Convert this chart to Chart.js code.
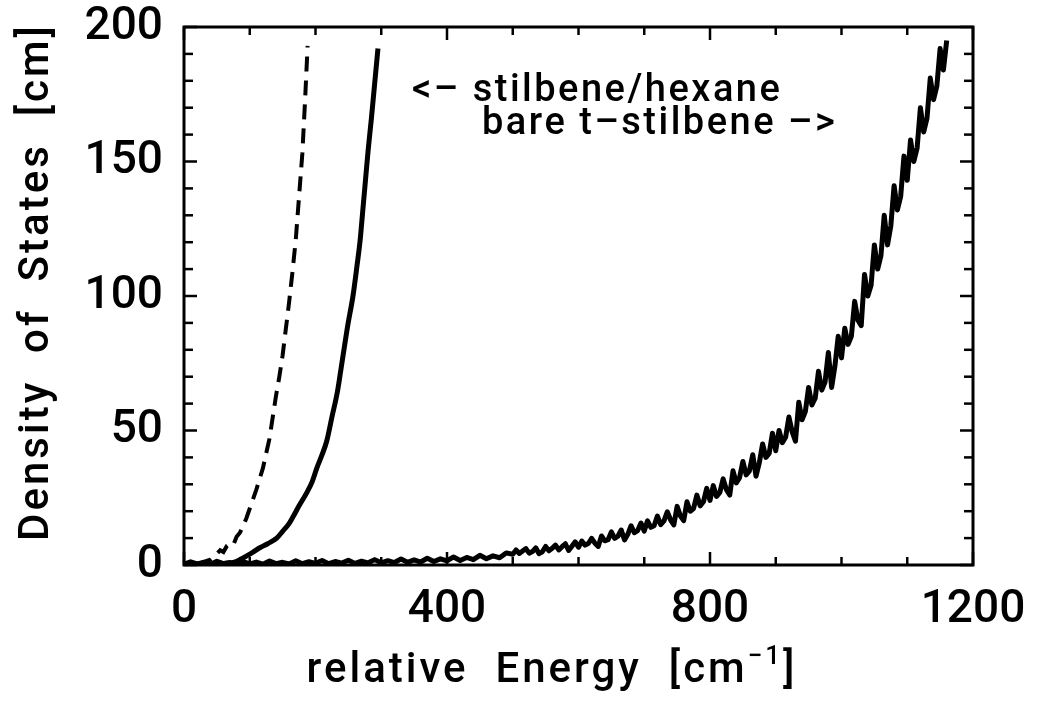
<!DOCTYPE html>
<html>
<head>
<meta charset="utf-8">
<title>Density of States</title>
<script src="https://cdn.jsdelivr.net/npm/chart.js@4.4.0/dist/chart.umd.min.js"></script>
<style>
  html, body { margin: 0; padding: 0; background: #fff; }
  #wrap { width: 1038px; height: 705px; }
</style>
</head>
<body>
<div id="wrap"><canvas id="dosChart" width="1038" height="705"></canvas></div>
<script>
// --- tick positions (major ticks carry labels, minor ticks are plain marks) ---
const xMajorTicks = [0, 400, 800, 1200];
const xMinorTicks = [100, 200, 300, 500, 600, 700, 900, 1000, 1100];
const yMajorTicks = [0, 50, 100, 150, 200];
const yMinorTicks = [10, 20, 30, 40, 60, 70, 80, 90, 110, 120, 130, 140, 160, 170, 180, 190];

// --- stilbene/hexane, dashed trace ---
const hexaneDashedE = [20, 30, 40, 50, 55, 60, 65, 70, 75, 80, 85, 90, 95, 100, 105, 110,
  115, 120, 125, 130, 135, 140, 145, 150, 155, 160, 165, 170, 175, 180, 184, 188];
const hexaneDashedDos = [0.3, 1.2, 2.0, 4.2, 5.5, 4.8, 7.0, 8.0, 7.5, 10.5, 12.0, 14.5, 17.5, 21.0, 24.5, 28.0,
  32.0, 36.0, 41.5, 47.0, 55.0, 63.0, 70.0, 78.0, 88.0, 98.0, 109.0, 121.0, 137.0, 153.0, 172.0, 193.0];

// --- stilbene/hexane, solid trace ---
const hexaneSolidE = [40, 60, 75, 85, 96, 105, 116, 128, 141, 150, 160, 166, 175, 187, 195, 202,
  210, 217, 225, 233, 237, 242, 249, 257, 263, 268, 272, 276, 280, 285, 290, 295];
const hexaneSolidDos = [0.3, 0.6, 1.0, 2.0, 3.5, 4.8, 6.5, 8.0, 10.0, 12.5, 15.5, 18.0, 22.0, 27.0, 31.0, 36.0,
  41.0, 46.0, 55.0, 64.0, 70.0, 78.0, 89.0, 100.0, 111.0, 121.0, 132.0, 143.0, 154.0, 166.0, 179.0, 192.0];

// --- bare t-stilbene (noisy), coarse grid below 500 cm-1, fine grid above ---
const bareE = [0, 10, 20, 30, 40, 50, 60, 70, 80, 90,
  100, 110, 120, 130, 140, 150, 160, 170, 180, 190,
  200, 210, 220, 230, 240, 250, 260, 270, 280, 290,
  300, 310, 320, 330, 340, 350, 360, 370, 380, 390,
  400, 410, 420, 430, 440, 450, 460, 470, 480, 490,
  500, 505, 510, 515, 520, 525, 530, 535, 540, 545, 550, 555, 560, 565, 570, 575, 580, 585, 590, 595,
  600, 605, 610, 615, 620, 625, 630, 635, 640, 645, 650, 655, 660, 665, 670, 675, 680, 685, 690, 695,
  700, 705, 710, 715, 720, 725, 730, 735, 740, 745, 750, 755, 760, 765, 770, 775, 780, 785, 790, 795,
  800, 805, 810, 815, 820, 825, 830, 835, 840, 845, 850, 855, 860, 865, 870, 875, 880, 885, 890, 895,
  900, 905, 910, 915, 920, 925, 930, 935, 940, 945, 950, 955, 960, 965, 970, 975, 980, 985, 990, 995,
  1000, 1005, 1010, 1015, 1020, 1025, 1030, 1035, 1040, 1045, 1050, 1055, 1060, 1065, 1070, 1075, 1080, 1085, 1090, 1095,
  1100, 1105, 1110, 1115, 1120, 1125, 1130, 1135, 1140, 1145, 1150, 1155, 1160];
const bareDos = [0.3, 1.2, 0.4, 1.0, 0.2, 1.4, 0.5, 0.9, 0.3, 1.3,
  0.4, 1.1, 0.3, 1.5, 0.5, 1.0, 0.4, 1.6, 0.5, 1.2,
  0.6, 1.7, 0.5, 1.3, 0.7, 1.8, 0.6, 1.4, 0.8, 2.0,
  0.8, 1.6, 0.9, 2.2, 1.0, 1.9, 1.1, 2.5, 1.3, 2.3,
  1.5, 3.0, 1.7, 2.8, 2.0, 3.6, 2.3, 3.4, 2.7, 4.5,
  4.0, 5.6, 4.3, 5.2, 6.1, 4.4, 5.0, 6.4, 4.2, 4.9, 6.9, 5.3, 6.2, 7.4, 5.6, 6.8, 7.9, 5.4, 7.0, 8.6,
  6.6, 8.9, 7.4, 8.0, 9.9, 8.1, 6.9, 10.8, 9.0, 9.4, 12.3, 9.9, 10.7, 13.0, 9.3, 11.4, 14.6, 12.0, 12.8, 15.6,
  12.6, 16.4, 14.0, 14.6, 18.2, 15.0, 16.4, 19.8, 16.8, 14.9, 21.8, 18.2, 16.5, 23.5, 20.0, 21.0, 26.0, 22.0, 23.5, 28.5,
  24.0, 29.5, 25.5, 27.0, 32.0, 28.0, 26.0, 35.0, 30.5, 32.5, 38.5, 33.5, 35.0, 41.0, 33.0, 38.0, 45.0, 40.0, 41.5, 49.0,
  42.5, 50.0, 45.5, 47.5, 55.0, 49.5, 46.0, 60.5, 54.0, 57.0, 66.0, 59.5, 62.0, 72.0, 65.0, 68.0, 79.0, 66.0, 74.0, 85.0,
  77.0, 88.0, 82.0, 85.0, 98.0, 91.0, 89.0, 108.0, 100.0, 104.0, 119.0, 110.0, 115.0, 130.0, 119.0, 126.0, 141.0, 132.0, 137.0, 152.0,
  143.0, 158.0, 150.0, 155.0, 170.0, 161.0, 166.0, 181.0, 173.0, 178.0, 192.0, 184.0, 195.0];

const FONT = 'Roboto, "Liberation Sans", Arial, sans-serif';
const WEIGHT = '500';

function toPoints(xs, ys) {
  return xs.map((x, i) => ({ x: x, y: ys[i] }));
}

// frame, inward ticks on all four sides, axis titles and the in-plot note
const frameAndText = {
  id: 'frameAndText',
  afterDatasetsDraw(chart) {
    const { ctx, chartArea: a } = chart;
    const xs = chart.scales.x, ys = chart.scales.y;
    ctx.save();
    ctx.strokeStyle = '#000';
    ctx.lineWidth = 3;
    ctx.strokeRect(a.left, a.top, a.right - a.left, a.bottom - a.top);

    ctx.lineWidth = 2.5;
    function seg(x1, y1, x2, y2) {
      ctx.beginPath();
      ctx.moveTo(x1, y1);
      ctx.lineTo(x2, y2);
      ctx.stroke();
    }
    function xTicks(list, len) {
      list.forEach(v => {
        const px = xs.getPixelForValue(v);
        seg(px, a.bottom, px, a.bottom - len);
        seg(px, a.top, px, a.top + len);
      });
    }
    function yTicks(list, len) {
      list.forEach(v => {
        const py = ys.getPixelForValue(v);
        seg(a.left, py, a.left + len, py);
        seg(a.right, py, a.right - len, py);
      });
    }
    xTicks(xMajorTicks, 13);
    xTicks(xMinorTicks, 8);
    yTicks(yMajorTicks, 13);
    yTicks(yMinorTicks, 9);

    ctx.fillStyle = '#000';
    ctx.textBaseline = 'alphabetic';
    const big = WEIGHT + ' 42px ' + FONT;
    const small = WEIGHT + ' 26px ' + FONT;

    // x title with superscript
    ctx.font = big;
    ctx.letterSpacing = '3px';
    const main = 'relative  Energy  [cm';
    const close = ']';
    const wMain = ctx.measureText(main).width;
    const wClose = ctx.measureText(close).width;
    ctx.font = small;
    const sup = '−1';
    const wSup = ctx.measureText(sup).width;
    let tx = 552 - (wMain + wSup + wClose) / 2;
    const ty = 682;
    ctx.textAlign = 'left';
    ctx.font = big;
    ctx.fillText(main, tx, ty);
    tx += wMain;
    ctx.font = small;
    ctx.fillText(sup, tx, ty - 18);
    tx += wSup;
    ctx.font = big;
    ctx.fillText(close, tx, ty);

    // y title
    ctx.save();
    ctx.translate(48, 282);
    ctx.rotate(-Math.PI / 2);
    ctx.textAlign = 'center';
    ctx.fillText('Density  of  States  [cm]', 0, 0);
    ctx.restore();

    // note inside the plot
    ctx.font = WEIGHT + ' 38px ' + FONT;
    ctx.letterSpacing = '2.5px';
    ctx.textAlign = 'left';
    ctx.fillText('<– stilbene/hexane', 412, 101);
    ctx.fillText('bare t–stilbene –>', 482, 134);
    ctx.restore();
  }
};

new Chart(document.getElementById('dosChart'), {
  type: 'line',
  data: {
    datasets: [
      {
        label: 'stilbene/hexane (dashed)',
        data: toPoints(hexaneDashedE, hexaneDashedDos),
        borderColor: '#000',
        borderWidth: 4,
        borderDash: [15, 9],
        pointRadius: 0,
        tension: 0,
        fill: false
      },
      {
        label: 'stilbene/hexane',
        data: toPoints(hexaneSolidE, hexaneSolidDos),
        borderColor: '#000',
        borderWidth: 5,
        cubicInterpolationMode: 'monotone',
        pointRadius: 0,
        fill: false
      },
      {
        label: 'bare t-stilbene',
        data: toPoints(bareE, bareDos),
        borderColor: '#000',
        borderWidth: 5,
        borderJoinStyle: 'round',
        pointRadius: 0,
        tension: 0,
        fill: false
      }
    ]
  },
  options: {
    responsive: false,
    animation: false,
    layout: { padding: { top: 27, right: 65, left: 0, bottom: 0 } },
    plugins: {
      legend: { display: false },
      tooltip: { enabled: false }
    },
    scales: {
      x: {
        type: 'linear',
        min: 0,
        max: 1200,
        afterFit: s => {
          s.height = 140;
          s.paddingLeft = 0;
          s.paddingRight = 0;
        },
        afterBuildTicks: s => { s.ticks = xMajorTicks.map(v => ({ value: v })); },
        grid: { display: false },
        border: { display: false },
        ticks: {
          color: '#000',
          padding: 10,
          maxRotation: 0,
          autoSkip: false,
          callback: v => String(v),
          font: { family: FONT, size: 46, weight: WEIGHT }
        }
      },
      y: {
        type: 'linear',
        min: 0,
        max: 200,
        afterFit: s => {
          s.width = 184;
          s.paddingTop = 0;
          s.paddingBottom = 0;
        },
        afterBuildTicks: s => { s.ticks = yMajorTicks.map(v => ({ value: v })); },
        grid: { display: false },
        border: { display: false },
        ticks: {
          color: '#000',
          padding: 13,
          callback: v => String(v),
          font: { family: FONT, size: 46, weight: WEIGHT }
        }
      }
    }
  },
  plugins: [frameAndText]
});
</script>
</body>
</html>
